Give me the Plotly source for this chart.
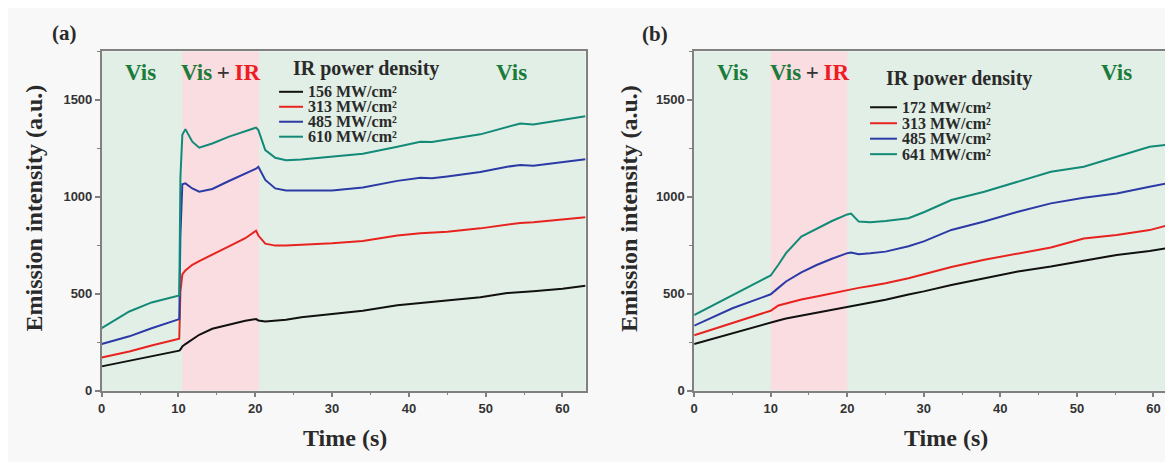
import plotly.graph_objects as go

# ---------------- data: panel (a) ----------------
a_time = [0, 3.6, 6.5, 10.1, 10.25, 10.5, 10.9, 11.8, 12.7, 14.4, 16.5, 18.7, 20.1, 20.4,
          21.3, 22.6, 24, 26, 30, 34, 38.5, 41.5, 43, 45, 49.3, 52.8, 54.5, 56.2, 60, 63]
a_156 = [125, 154, 180, 206, 212, 228, 240, 265, 288, 319, 340, 360, 369, 362,
         357, 360, 365, 378, 394, 412, 440, 451, 458, 466, 482, 503, 507, 512, 525, 541]
a_313 = [171, 202, 233, 268, 511, 600, 620, 649, 668, 700, 743, 786, 825, 800,
         758, 748, 748, 752, 760, 772, 800, 812, 815, 820, 837, 858, 865, 868, 882, 894]
a_485 = [240, 280, 322, 369, 800, 1065, 1069, 1043, 1026, 1040, 1080, 1120, 1145, 1155,
         1087, 1043, 1032, 1032, 1032, 1048, 1082, 1098, 1095, 1105, 1128, 1155, 1164, 1160, 1178, 1193]
a_610 = [322, 408, 455, 491, 1100, 1320, 1349, 1284, 1253, 1275, 1309, 1339, 1357, 1344,
         1241, 1201, 1189, 1192, 1207, 1222, 1258, 1284, 1282, 1296, 1322, 1361, 1378, 1373, 1396, 1416]
a_labels = ["156 MW/cm²", "313 MW/cm²", "485 MW/cm²", "610 MW/cm²"]

# ---------------- data: panel (b) ----------------
b_time = [0, 5, 8, 10, 11, 12, 14, 16, 18, 20, 20.5, 21.5, 23, 25, 28, 30,
          33.6, 37.9, 42.3, 46.6, 50.9, 55.2, 59.5, 62.3]
b_172 = [240, 297, 331, 353, 362, 372, 387, 400, 415, 429, 432, 440, 452, 469, 496, 512,
         545, 580, 615, 640, 670, 700, 720, 738]
b_313 = [285, 348, 386, 412, 439, 450, 470, 486, 503, 520, 523, 530, 540, 554, 580, 600,
         638, 675, 705, 738, 785, 803, 828, 858]
b_485 = [335, 425, 468, 497, 530, 563, 610, 648, 680, 709, 712, 704, 708, 717, 745, 770,
         829, 872, 923, 966, 995, 1017, 1052, 1073]
b_641 = [390, 494, 554, 594, 649, 709, 795, 834, 875, 909, 913, 872, 868, 875, 889, 920,
         983, 1026, 1078, 1129, 1155, 1207, 1258, 1270]
b_labels = ["172 MW/cm²", "313 MW/cm²", "485 MW/cm²", "641 MW/cm²"]

y_ticks = [0, 500, 1000, 1500]
x_ticks = [0, 10, 20, 30, 40, 50, 60]

colors = ["#111111", "#e8231f", "#2c3aa6", "#138a78"]
GREEN = "#1b7b3a"
RED = "#ec1c24"
DARK = "#2a2a2a"
SERIF = "Liberation Serif"
SANS = "Liberation Sans"

W, H = 1173, 462
OFFX = 10            # horizontal shift of the figure on the page
SY, OFFY = 0.985, 6.5  # vertical scale / shift of the figure on the page


def px(X):
    return (X - OFFX) / W


def py(Y):
    return 1 - ((Y - OFFY) / SY) / H


fig = go.Figure()

for ys, name, c in zip([a_156, a_313, a_485, a_610], a_labels, colors):
    fig.add_trace(go.Scatter(x=a_time, y=ys, mode="lines", name=name, showlegend=False,
                             line=dict(color=c, width=2), xaxis="x", yaxis="y"))
for ys, name, c in zip([b_172, b_313, b_485, b_641], b_labels, colors):
    fig.add_trace(go.Scatter(x=b_time, y=ys, mode="lines", name=name, showlegend=False,
                             line=dict(color=c, width=2), xaxis="x2", yaxis="y2"))

ydom = [py(390), py(50)]
axis_common = dict(showline=True, linecolor="#808080", linewidth=1.5, ticks="outside",
                   ticklen=5, tickwidth=1.5, tickcolor="#808080", showgrid=False,
                   zeroline=False,
                   tickfont=dict(family=SANS, size=13, color="#333333", weight="bold"),
                   minor=dict(ticks="outside", ticklen=3, tickwidth=1, tickcolor="#808080"))

fig.update_layout(
    width=W, height=H,
    margin=dict(l=0, r=0, t=0, b=0),
    paper_bgcolor="#f8f8f8",
    plot_bgcolor="#e1efe6",
    xaxis=dict(domain=[px(100), px(585.5)], range=[0, 63], tickvals=x_ticks, mirror=True,
               anchor="y", minor_dtick=5, **axis_common),
    yaxis=dict(domain=ydom, range=[0, 1750], tickvals=y_ticks, mirror=True, anchor="x",
               minor_dtick=250, **axis_common),
    xaxis2=dict(domain=[px(694.5), min(1.0, px(1173))], range=[0, 62.3], tickvals=x_ticks,
                mirror=True, anchor="y2", minor_dtick=5, **axis_common),
    yaxis2=dict(domain=ydom, range=[0, 1750], tickvals=y_ticks, mirror=False, anchor="x2",
                minor_dtick=250, **axis_common),
    showlegend=False,
)

# shaded Vis+IR intervals
fig.add_shape(type="rect", xref="x", yref="y domain", x0=10.5, x1=20.5, y0=0, y1=1,
              fillcolor="#f9dde0", line_width=0, layer="below")
fig.add_shape(type="rect", xref="x2", yref="y2 domain", x0=10, x1=20, y0=0, y1=1,
              fillcolor="#f9dde0", line_width=0, layer="below")

title_font = dict(family=SERIF, size=24, color=DARK, weight="bold")
vis_font = dict(family=SERIF, size=23, color=GREEN, weight="bold")
visir = (f"<span style='color:{GREEN}'>Vis</span>"
         f"<span style='color:#333333'>\u2009+\u2009</span>"
         f"<span style='color:{RED}'>IR</span>")

panels = [
    dict(lbl="(a)", lbl_xy=(63, 32), vis1=(139, 71), visir=(219.5, 71), vis2=(511, 71),
         xt=(344, 438), yt=(32.5, 207), lt=(290, 67), kx=(278, 302), tx=305,
         rows=[90.5, 105.5, 120.5, 135.5], labels=a_labels),
    dict(lbl="(b)", lbl_xy=(655, 33), vis1=(733, 71), visir=(810, 71), vis2=(1118, 71),
         xt=(947, 438), yt=(629, 207), lt=(885, 77), kx=(871, 898), tx=901,
         rows=[106, 122, 137.5, 153], labels=b_labels),
]


def note(x, y, text, font, xanchor="center", angle=0):
    fig.add_annotation(x=px(x), y=py(y), xref="paper", yref="paper", text=text,
                       showarrow=False, xanchor=xanchor, yanchor="middle",
                       textangle=angle, font=font)


for p in panels:
    note(*p["lbl_xy"], p["lbl"], dict(family=SERIF, size=21, color=DARK, weight="bold"))
    note(*p["vis1"], "Vis", vis_font)
    note(*p["visir"], visir, vis_font)
    note(*p["vis2"], "Vis", vis_font)
    note(*p["xt"], "Time (s)", title_font)
    note(*p["yt"], "Emission intensity (a.u.)", title_font, angle=-90)
    note(*p["lt"], "IR power density", dict(family=SERIF, size=20, color=DARK, weight="bold"),
         xanchor="left")
    for ry, lab, c in zip(p["rows"], p["labels"], colors):
        fig.add_shape(type="line", xref="paper", yref="paper",
                      x0=px(p["kx"][0]), x1=px(p["kx"][1]), y0=py(ry), y1=py(ry),
                      line=dict(color=c, width=2))
        note(p["tx"], ry, lab, dict(family=SERIF, size=16, color=DARK, weight="bold"),
             xanchor="left")

fig.write_html("out.html")
